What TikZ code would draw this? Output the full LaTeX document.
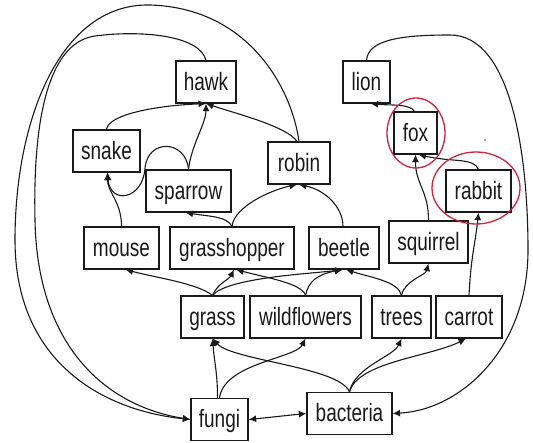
\documentclass[tikz,border=0pt]{standalone}
\usepackage{fontspec}
\usepackage{graphicx}
\setmainfont{Liberation Sans}
\usetikzlibrary{arrows.meta}
\definecolor{ink}{RGB}{25,25,25}
\definecolor{marker}{RGB}{205,35,60}
% tall, narrow lettering used for every label
\newcommand\tallword[1]{\scalebox{1}[1.32]{#1}}
\tikzset{
  box/.style={draw=ink, line width=1.2pt, minimum height=42pt, inner sep=0pt,
    text height=17pt, text depth=0pt,
    text=ink, font=\fontsize{19}{22}\selectfont},
  feed/.style={draw=ink, line width=1.1pt, -{Latex[length=7.5pt,width=7pt]}},
  both/.style={draw=ink, line width=1.1pt, {Latex[length=7.5pt,width=7pt]}-{Latex[length=7.5pt,width=7pt]}},
  ring/.style={draw=marker, line width=1.3pt}
}
\begin{document}
\begin{tikzpicture}[x=1pt,y=-1pt]
\useasboundingbox (0,0) rectangle (533,443);
% consumers
\node[box, minimum width=60pt] (hawk) at (206,82) {\tallword{hawk}};
\node[box, minimum width=67pt] (snake) at (106.5,151) {\tallword{snake}};
\node[box, minimum width=85pt] (sparrow) at (188.5,191) {\tallword{sparrow}};
\node[box, minimum width=62pt] (robin) at (299,163) {\tallword{robin}};
\node[box, minimum width=47pt] (lion) at (366.5,82) {\tallword{lion}};
\node[box, minimum width=43pt] (fox) at (415.5,133) {\tallword{fox}};
\node[box, minimum width=65pt] (rabbit) at (478.5,191) {\tallword{rabbit}};
\node[box, minimum width=75pt] (mouse) at (121.5,248) {\tallword{mouse}};
\node[box, minimum width=124pt] (grasshopper) at (232,248) {\tallword{grasshopper}};
\node[box, minimum width=70pt] (beetle) at (344,248) {\tallword{beetle}};
\node[box, minimum width=79pt] (squirrel) at (428.5,242) {\tallword{squirrel}};
% producers
\node[box, minimum width=63pt] (grass) at (212.5,317) {\tallword{grass}};
\node[box, minimum width=111pt] (wildflowers) at (305.5,317) {\tallword{wildflowers}};
\node[box, minimum width=59pt] (trees) at (401.5,317) {\tallword{trees}};
\node[box, minimum width=66pt] (carrot) at (469,317) {\tallword{carrot}};
% decomposers
\node[box, minimum width=57pt] (fungi) at (219.5,419.5) {\tallword{fungi}};
\node[box, minimum width=85pt] (bacteria) at (349.5,413.5) {\tallword{bacteria}};

% producers to herbivores
\draw[feed] (grass.north) .. controls +(-15,-12) and +(30,8) .. ([xshift=4pt]mouse.south);
\draw[feed] (grass.north) .. controls +(5,-12) and +(-5,10) .. ([xshift=2pt]grasshopper.south);
\draw[feed] (grass.north) .. controls +(15,-18) and +(-30,4) .. ([xshift=-1pt]beetle.south);
\draw[feed] (wildflowers.north) .. controls +(-3,-12) and +(30,8) .. ([xshift=4pt]grasshopper.south);
\draw[feed] (wildflowers.north) .. controls +(3,-14) and +(-25,5) .. ([xshift=-2pt]beetle.south);
\draw[feed] (trees.north) .. controls +(-3,-14) and +(25,8) .. ([xshift=2pt]beetle.south);
\draw[feed] (trees.north) .. controls +(3,-15) and +(-3,12) .. (squirrel.south);
\draw[feed] (carrot.north) .. controls +(2,-40) and +(-3,30) .. (rabbit.south);
% right-hand chain
\draw[feed] (squirrel.north) .. controls +(0,-30) and +(0,30) .. (fox.south);
\draw[feed] (rabbit.north) .. controls +(-5,-12) and +(35,8) .. ([xshift=3pt]fox.south);
\draw[feed] ([xshift=-1pt]fox.north) .. controls +(-5,-8) and +(20,2) .. ([xshift=4pt]lion.south);
% insects and mouse upwards
\draw[feed] (grasshopper.north) .. controls +(-5,-10) and +(25,4) .. ([xshift=-3pt]sparrow.south);
\draw[feed] (grasshopper.north) .. controls +(2,-20) and +(-25,5) .. ([xshift=-2pt]robin.south);
\draw[feed] ([xshift=-1pt]beetle.north) .. controls +(0,-20) and +(25,5) .. (robin.south);
\draw[feed] (mouse.north) .. controls +(0,-25) and +(0,20) .. ([xshift=1pt]snake.south);
\draw[feed] (sparrow.north) .. controls (186,140) and (148,138) .. (145,168)
  .. controls (143,200) and (110,205) .. ([xshift=1pt]snake.south);
% into the hawk
\draw[feed] (sparrow.north) .. controls +(3,-25) and +(0,20) .. (hawk.south);
\draw[feed] (snake.north) .. controls +(2,-15) and +(-50,2) .. (hawk.south);
\draw[feed] ([xshift=-2pt]robin.north) .. controls +(-10,-15) and +(30,10) .. (hawk.south);
% returns to the decomposers
\draw[feed] (hawk.north) .. controls (200,35) and (140,30) .. (95,36)
  .. controls (45,43) and (33,130) .. (35,220)
  .. controls (37,340) and (100,405) .. (fungi.west);
\draw[feed] (robin.north) .. controls (292,90) and (250,8) .. (150,5)
  .. controls (60,3) and (15,120) .. (15,240)
  .. controls (15,360) and (100,410) .. (fungi.west);
\draw[feed] (lion.north) .. controls (368,40) and (400,35) .. (450,35)
  .. controls (510,35) and (528,150) .. (528,250)
  .. controls (528,350) and (460,410) .. (bacteria.east);
\draw[both] (fungi.east) .. controls +(20,-2) and +(-20,2) .. (bacteria.west);
% decomposers to producers
\draw[feed] ([xshift=-2pt]fungi.north) .. controls +(0,-25) and +(2,25) .. (grass.south);
\draw[feed] (fungi.north) .. controls +(5,-35) and +(-10,20) .. (wildflowers.south);
\draw[feed] (bacteria.north) .. controls +(-10,-25) and +(20,22) .. (grass.south);
\draw[feed] (bacteria.north) .. controls +(5,-25) and +(-8,18) .. (trees.south);
\draw[feed] (bacteria.north) .. controls +(8,-30) and +(-35,18) .. ([xshift=-3pt]carrot.south);

% hand-drawn highlights
\draw[ring] (416,133) ellipse [x radius=29pt, y radius=35pt];
\draw[ring] (476,188) ellipse [x radius=44pt, y radius=36pt];
\fill[marker] (485,140) circle (0.9pt);
\end{tikzpicture}
\end{document}
